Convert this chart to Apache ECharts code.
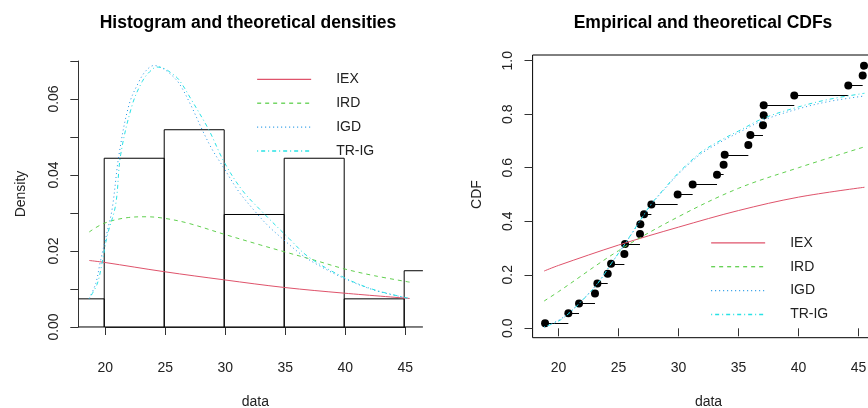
<!DOCTYPE html>
<html>
<head>
<meta charset="utf-8">
<script src="https://cdn.jsdelivr.net/npm/echarts@6/dist/echarts.min.js"></script>
<style>
  html, body { margin: 0; padding: 0; background: #fff; }
  #chart { width: 868px; height: 408px; }
</style>
</head>
<body>
<div id="chart"></div>
<script>
// histogram (density scale)
const binEdges = [15, 20, 25, 30, 35, 40, 45, 50];
const binDensity = [0.0074, 0.0444, 0.0519, 0.0296, 0.0444, 0.0074, 0.0148];

// fitted densities
const iexDensX = [18.75, 20, 25, 30, 35, 40, 45.45];
const iexDensY = [0.0175, 0.0170, 0.01455, 0.0124, 0.0104, 0.0089, 0.0075];
const irdDensX = [18.75, 20, 22, 23.5, 25, 27, 30, 33, 35, 37.5, 40, 42.5, 45.45];
const irdDensY = [0.0250, 0.0273, 0.0288, 0.0290, 0.0286, 0.0273, 0.0244, 0.0216, 0.0198, 0.0176, 0.0153, 0.0135, 0.0118];
const igdDensX = [18.75, 19.3, 19.65, 20.25, 20.67, 21.23, 22.06, 22.9, 23.5, 24.14, 24.8, 25.5, 26.24, 27.2, 28.18, 29.0, 29.98, 31.2, 32.6, 33.7, 34.83, 36.5, 38, 40, 42.5, 45.45];
const igdDensY = [0.0075, 0.0115, 0.0168, 0.0251, 0.0312, 0.0453, 0.0584, 0.0646, 0.0675, 0.0688, 0.0682, 0.0666, 0.0641, 0.0585, 0.0518, 0.0467, 0.0418, 0.0357, 0.0303, 0.0265, 0.0233, 0.0189, 0.0160, 0.0128, 0.0097, 0.0075];
const trigDensX = [18.75, 19.4, 19.8, 20.25, 20.95, 21.37, 22.33, 23.17, 23.8, 24.4, 25, 25.6, 26.24, 27.3, 28.73, 29.98, 31.5, 33.17, 35.4, 37, 40, 42.5, 45.45];
const trigDensY = [0.0075, 0.0112, 0.0165, 0.0240, 0.0321, 0.0453, 0.0584, 0.0646, 0.0672, 0.0684, 0.0680, 0.0668, 0.0650, 0.0596, 0.0518, 0.0435, 0.0360, 0.0303, 0.0233, 0.0185, 0.0130, 0.0098, 0.0075];

// empirical cdf points
const obsX = [18.88, 20.82, 21.71, 23.04, 23.24, 24.10, 24.38, 25.49, 25.54, 26.79, 26.82, 27.13, 27.74, 29.93, 31.18, 33.21, 33.76, 33.85, 35.82, 35.99, 37.04, 37.10, 37.10, 39.65, 44.15, 45.35, 45.46];
const obsY = [0.019, 0.056, 0.093, 0.130, 0.167, 0.204, 0.241, 0.278, 0.315, 0.352, 0.389, 0.426, 0.463, 0.500, 0.537, 0.574, 0.611, 0.648, 0.685, 0.722, 0.759, 0.796, 0.833, 0.870, 0.907, 0.944, 0.981];

// fitted cdfs
const iexCdfX = [18.8, 20, 25, 30, 35, 40, 45.5];
const iexCdfY = [0.214, 0.235, 0.311, 0.378, 0.440, 0.490, 0.527];
const irdCdfX = [18.8, 20, 25, 30, 35, 40, 45.5];
const irdCdfY = [0.102, 0.137, 0.290, 0.417, 0.523, 0.600, 0.678];
const igdCdfX = [18.8, 20, 20.82, 21.71, 23.24, 24.38, 25.54, 26.79, 27.74, 29, 30, 31, 32, 33.7, 35, 37.1, 40, 42.5, 45.5];
const igdCdfY = [0.005, 0.030, 0.056, 0.093, 0.167, 0.241, 0.315, 0.400, 0.463, 0.528, 0.577, 0.619, 0.656, 0.701, 0.731, 0.778, 0.820, 0.847, 0.868];
const trigCdfX = [18.8, 20, 20.82, 21.71, 23.24, 24.38, 25.54, 26.79, 27.74, 29, 30, 31, 32, 33.7, 35, 37.1, 40, 42.5, 45.5];
const trigCdfY = [0.005, 0.027, 0.054, 0.092, 0.166, 0.241, 0.316, 0.402, 0.465, 0.531, 0.581, 0.624, 0.662, 0.707, 0.737, 0.785, 0.827, 0.855, 0.878];

const names = ['IEX', 'IRD', 'IGD', 'TR-IG'];
const colors = ['#DF536B', '#61D04F', '#2297E6', '#28E2E5'];
const dashes = ['solid', [4, 4], [1, 3], [1, 3, 4, 3]];

const font = '"Liberation Sans", Arial, sans-serif';
const axisColor = '#333';
const textColor = '#222';

function pairs(xs, ys) {
  return xs.map((x, i) => [x, ys[i]]);
}

function curve(i, xs, ys, axisIdx) {
  return {
    type: 'line',
    name: names[i],
    xAxisIndex: axisIdx,
    yAxisIndex: axisIdx,
    data: pairs(xs, ys),
    smooth: 0.35,
    symbol: 'none',
    silent: true,
    z: 5,
    lineStyle: { color: colors[i], width: 1, type: dashes[i] },
    itemStyle: { color: colors[i] }
  };
}

// histogram bars: open rectangles clipped to the plot region
function renderBar(params, api) {
  const cs = params.coordSys;
  const x0 = api.value(0), x1 = api.value(1), h = api.value(2);
  const p0 = api.coord([x0, h]);
  const p1 = api.coord([x1, 0]);
  const l = Math.max(p0[0], cs.x);
  const r = Math.min(p1[0], cs.x + cs.width);
  const st = { stroke: '#000', lineWidth: 1, fill: null };
  const kids = [
    { type: 'line', shape: { x1: l, y1: p0[1], x2: r, y2: p0[1] }, style: st },
    { type: 'line', shape: { x1: l, y1: p1[1], x2: r, y2: p1[1] }, style: st }
  ];
  if (p0[0] >= cs.x) kids.push({ type: 'line', shape: { x1: p0[0], y1: p0[1], x2: p0[0], y2: p1[1] }, style: st });
  if (p1[0] <= cs.x + cs.width) kids.push({ type: 'line', shape: { x1: p1[0], y1: p0[1], x2: p1[0], y2: p1[1] }, style: st });
  return { type: 'group', children: kids };
}

const histData = binDensity.map((d, i) => [binEdges[i], binEdges[i + 1], d]);

const stepData = [];
for (let i = 0; i < obsX.length - 1; i++) {
  stepData.push({ coords: [[obsX[i], obsY[i]], [obsX[i + 1], obsY[i]]] });
}

const tickLabel = { fontSize: 14, color: textColor, fontFamily: font, margin: 23 };
const yTickLabel = { fontSize: 14, color: textColor, fontFamily: font, margin: 17 };
const nameStyle = { fontSize: 14, color: textColor, fontFamily: font };

function shownAxis(extra) {
  return Object.assign({
    type: 'value',
    splitLine: { show: false },
    axisLine: { show: true, lineStyle: { color: axisColor, width: 1 } },
    axisTick: { show: true, length: 8, lineStyle: { color: axisColor, width: 1 } },
    nameLocation: 'middle',
    nameTextStyle: nameStyle
  }, extra);
}

const legendItems = names.map((n, i) => ({
  name: n,
  itemStyle: { opacity: 0 },
  lineStyle: { color: colors[i], width: 1.3, type: dashes[i], opacity: 1 }
}));

function legendAt(left, top) {
  return {
    orient: 'vertical', left: left, top: top, padding: 0,
    itemWidth: 54, itemHeight: 14, itemGap: 9.9,
    data: legendItems, selectedMode: false,
    textStyle: { fontSize: 14, color: textColor, fontFamily: font, padding: [0, 0, 0, 20] }
  };
}

const chart = echarts.init(document.getElementById('chart'), null, { renderer: 'canvas' });

chart.setOption({
  animation: false,
  backgroundColor: '#fff',
  title: [
    { text: 'Histogram and theoretical densities', left: 243, top: 9, textAlign: 'center',
      textStyle: { fontSize: 17.5, fontWeight: 'bold', color: '#000', fontFamily: font } },
    { text: 'Empirical and theoretical CDFs', left: 698, top: 9, textAlign: 'center',
      textStyle: { fontSize: 17.5, fontWeight: 'bold', color: '#000', fontFamily: font } }
  ],
  legend: [legendAt(256.5, 72.3), legendAt(710.5, 235.8)],
  grid: [
    { left: 78.3, top: 54.5, width: 344.6, height: 283.5, outerBoundsMode: 'none' },
    { left: 105.3, top: 61, width: 300, height: 266, outerBoundsMode: 'none' },
    { left: 532.6, top: 55, width: 344.6, height: 282.7, outerBoundsMode: 'none',
      show: true, borderColor: '#000', borderWidth: 1, backgroundColor: 'transparent' },
    { left: 558.5, top: 60.7, width: 300, height: 267.6, outerBoundsMode: 'none' }
  ],
  xAxis: [
    { type: 'value', gridIndex: 0, min: 17.84, max: 46.56, show: false },
    shownAxis({ gridIndex: 1, min: 20, max: 45, interval: 5, offset: 11,
      axisLabel: tickLabel, name: 'data', nameGap: 57 }),
    { type: 'value', gridIndex: 2, min: 17.84, max: 46.56, show: false },
    shownAxis({ gridIndex: 3, min: 20, max: 45, interval: 5, offset: 9.4,
      axisLine: { show: false }, axisLabel: tickLabel, name: 'data', nameGap: 57 })
  ],
  yAxis: [
    { type: 'value', gridIndex: 0, min: -0.0029, max: 0.0717, show: false },
    shownAxis({ gridIndex: 1, min: 0, max: 0.07, interval: 0.01, offset: 27,
      axisLabel: Object.assign({}, yTickLabel, { rotate: 90, showMinLabel: true,
        formatter: v => (Math.round(v * 100) % 2 === 0 ? v.toFixed(2) : '') }),
      name: 'Density', nameGap: 50 }),
    { type: 'value', gridIndex: 2, min: -0.035, max: 1.021, show: false },
    shownAxis({ gridIndex: 3, min: 0, max: 1, interval: 0.2, offset: 26,
      axisLine: { show: false },
      axisLabel: Object.assign({}, yTickLabel, { rotate: 90, showMinLabel: true,
        formatter: v => v.toFixed(1) }),
      name: 'CDF', nameGap: 48 })
  ],
  series: [
    { type: 'custom', name: 'hist', xAxisIndex: 0, yAxisIndex: 0, data: histData,
      encode: { x: [0, 1], y: 2 }, renderItem: renderBar, silent: true, z: 2 },
    curve(0, iexDensX, iexDensY, 0),
    curve(1, irdDensX, irdDensY, 0),
    curve(2, igdDensX, igdDensY, 0),
    curve(3, trigDensX, trigDensY, 0),
    { type: 'lines', coordinateSystem: 'cartesian2d', xAxisIndex: 2, yAxisIndex: 2,
      data: stepData, silent: true, z: 3,
      lineStyle: { color: '#000', width: 1, opacity: 1 } },
    curve(0, iexCdfX, iexCdfY, 2),
    curve(1, irdCdfX, irdCdfY, 2),
    curve(2, igdCdfX, igdCdfY, 2),
    curve(3, trigCdfX, trigCdfY, 2),
    { type: 'scatter', name: 'ecdf', xAxisIndex: 2, yAxisIndex: 2, data: pairs(obsX, obsY),
      symbol: 'circle', symbolSize: 8, silent: true, z: 4,
      itemStyle: { color: '#000', opacity: 1 } }
  ]
});
</script>
</body>
</html>
